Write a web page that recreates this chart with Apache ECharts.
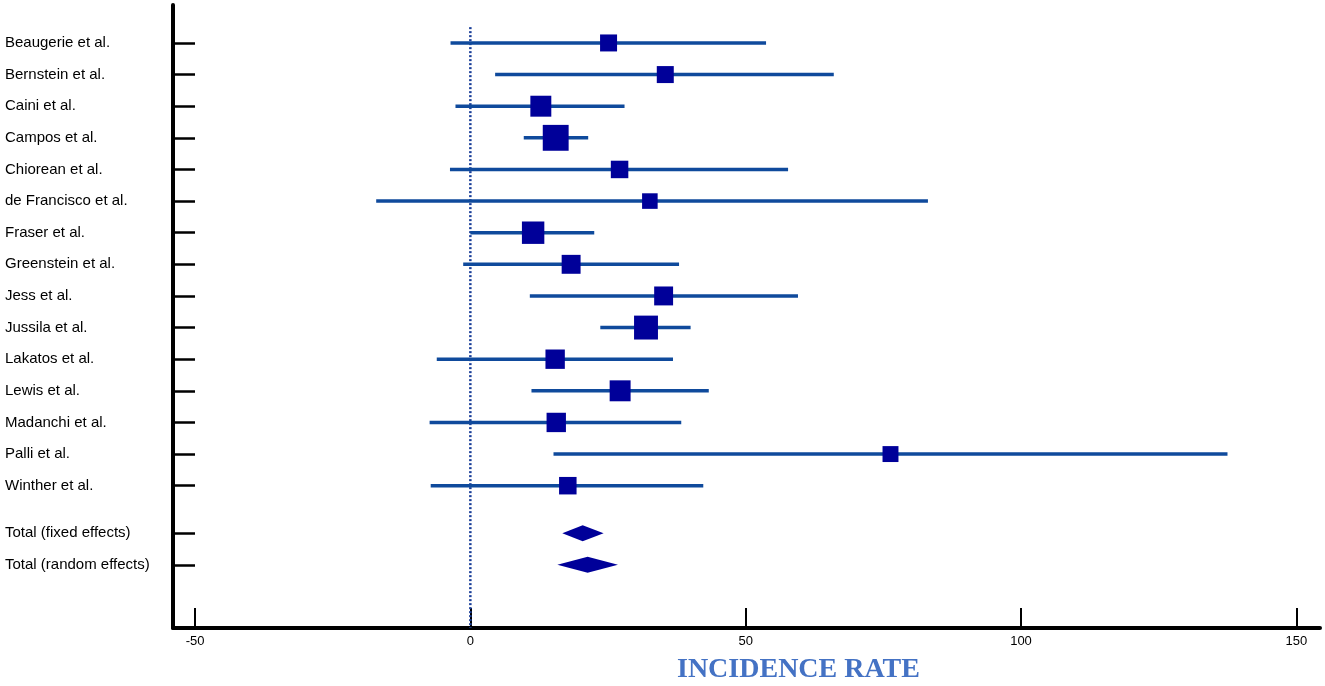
<!DOCTYPE html>
<html>
<head>
<meta charset="utf-8">
<script src="https://cdn.jsdelivr.net/npm/echarts@6/dist/echarts.min.js"></script>
<style>
    html, body { margin: 0; padding: 0; background: #fff; }
    #chart { width: 1325px; height: 686px; }
</style>
</head>
<body>
<div id="chart"></div>
<script>
// studies
var studies = [
    'Beaugerie et al.', 'Bernstein et al.', 'Caini et al.', 'Campos et al.',
    'Chiorean et al.', 'de Francisco et al.', 'Fraser et al.', 'Greenstein et al.',
    'Jess et al.', 'Jussila et al.', 'Lakatos et al.', 'Lewis et al.',
    'Madanchi et al.', 'Palli et al.', 'Winther et al.'
];
var estimate = [25.1, 35.4, 12.8, 15.5, 27.1, 32.6, 11.4, 18.3, 35.1, 31.9, 15.4, 27.2, 15.6, 76.3, 17.7];
var lower = [-3.6, 4.5, -2.7, 9.7, -3.7, -17.1, 0.0, -1.3, 10.8, 23.6, -6.1, 11.1, -7.4, 15.1, -7.2];
var upper = [53.7, 66.0, 28.0, 21.4, 57.7, 83.1, 22.5, 37.9, 59.5, 40.0, 36.8, 43.3, 38.3, 137.5, 42.3];
// relative weight (%), drives box size
var weight = [5.0, 5.0, 7.6, 11.6, 5.3, 4.2, 8.7, 6.2, 6.2, 9.9, 6.5, 7.6, 6.5, 4.4, 5.3];

var totals = ['Total (fixed effects)', 'Total (random effects)'];
var totalEstimate = [20.4, 21.3];
var totalLower = [16.7, 15.8];
var totalUpper = [24.2, 26.8];

var xTicks = [-50, 0, 50, 100, 150];
var refValue = 0;

// row layout: one row per study, then a half row gap before the totals
var rowOf = {};
var rowValues = [];
studies.forEach(function(name, i) {
    rowOf[i] = name;
    rowValues.push(i);
});
totals.forEach(function(name, i) {
    var r = studies.length + 0.5 + i;
    rowOf[r] = name;
    rowValues.push(r);
});

var ciData = [];
var boxData = [];
for (var i = 0; i < studies.length; i++) {
    ciData.push([lower[i], upper[i], i]);
    boxData.push({
        value: [estimate[i], i],
        symbolSize: 7.6 * Math.sqrt(weight[i])
    });
}
var diamondData = [];
for (var j = 0; j < totals.length; j++) {
    diamondData.push([totalLower[j], totalEstimate[j], totalUpper[j], studies.length + 0.5 + j]);
}

var chart = echarts.init(document.getElementById('chart'));

var option = {
    animation: false,
    backgroundColor: '#ffffff',
    title: {
        text: 'INCIDENCE RATE',
        left: 677,
        top: 656,
        padding: 0,
        textStyle: {
            fontFamily: '"Liberation Serif", "Times New Roman", serif',
            fontWeight: 'bold',
            fontSize: 28,
            color: '#4472c4'
        }
    },
    grid: { left: 173, right: 5, top: 5, bottom: 58 },
    xAxis: {
        type: 'value',
        min: -54,
        max: 154.3,
        splitLine: { show: false },
        axisLine: { onZero: false, lineStyle: { color: '#000', width: 4 } },
        axisTick: {
            inside: true,
            length: 20,
            customValues: xTicks,
            lineStyle: { color: '#000', width: 2 }
        },
        axisLabel: {
            customValues: xTicks,
            margin: 7,
            color: '#000',
            fontSize: 13,
            fontFamily: '"Liberation Sans", Arial, sans-serif'
        }
    },
    yAxis: {
        type: 'value',
        inverse: true,
        min: -1.2,
        max: 18.5,
        splitLine: { show: false },
        axisLine: { onZero: false, lineStyle: { color: '#000', width: 4 } },
        axisTick: {
            inside: true,
            length: 22,
            customValues: rowValues,
            lineStyle: { color: '#000', width: 2.5 }
        },
        axisLabel: {
            customValues: rowValues,
            align: 'left',
            margin: 168,
            padding: [3, 0, 0, 0],
            color: '#000',
            fontSize: 15,
            fontFamily: '"Liberation Sans", Arial, sans-serif',
            formatter: function(v) {
                return rowOf[v] || '';
            }
        }
    },
    series: [
        {
            // reference line at zero
            type: 'line',
            data: [[refValue, -0.5], [refValue, 18.5]],
            symbol: 'none',
            silent: true,
            lineStyle: { color: '#1a3f99', width: 2.5, type: [2, 2] },
            z: 1
        },
        {
            type: 'custom',
            data: ciData,
            encode: { x: [0, 1], y: 2 },
            renderItem: function(params, api) {
                var p1 = api.coord([api.value(0), api.value(2)]);
                var p2 = api.coord([api.value(1), api.value(2)]);
                return {
                    type: 'line',
                    shape: { x1: p1[0], y1: p1[1], x2: p2[0], y2: p2[1] },
                    style: { stroke: '#0f4a9c', lineWidth: 3.5 }
                };
            },
            z: 2
        },
        {
            type: 'scatter',
            data: boxData,
            symbol: 'rect',
            itemStyle: { color: '#000099', opacity: 1 },
            z: 3
        },
        {
            type: 'custom',
            data: diamondData,
            encode: { x: [0, 1, 2], y: 3 },
            renderItem: function(params, api) {
                var y = api.value(3);
                var l = api.coord([api.value(0), y]);
                var m = api.coord([api.value(1), y]);
                var r = api.coord([api.value(2), y]);
                var h = 8;
                return {
                    type: 'polygon',
                    shape: { points: [[l[0], l[1]], [m[0], m[1] - h], [r[0], r[1]], [m[0], m[1] + h]] },
                    style: { fill: '#000099' }
                };
            },
            z: 3
        }
    ]
};

chart.setOption(option);
</script>
</body>
</html>
